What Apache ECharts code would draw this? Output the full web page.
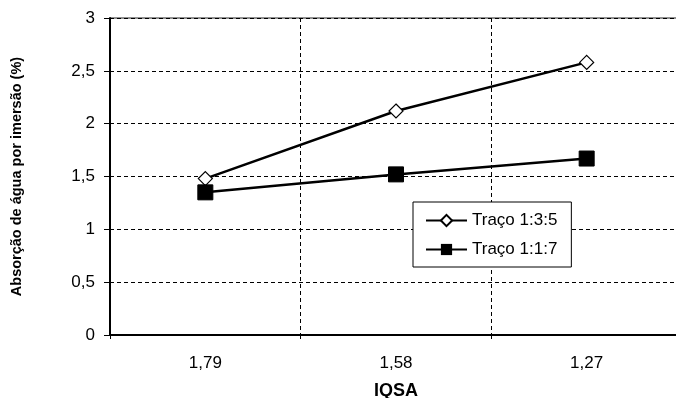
<!DOCTYPE html>
<html>
<head>
<meta charset="UTF-8">
<title>Absorção de água por imersão</title>
<script src="https://cdn.jsdelivr.net/npm/echarts@6/dist/echarts.min.js"></script>
<style>
  html, body { margin: 0; padding: 0; background: #fff; }
  #main { width: 676px; height: 398px; }
</style>
</head>
<body>
<div id="main"></div>
<script>
// dados
var categorias = ['1,79', '1,58', '1,27'];
var traco135 = [1.48, 2.12, 2.58];
var traco117 = [1.35, 1.52, 1.67];
var nomes = ['Traço 1:3:5', 'Traço 1:1:7'];

var fonte = '"Liberation Sans", Arial, sans-serif';
var chart = echarts.init(document.getElementById('main'));

function virgula(v) {
  return String(v).replace('.', ',');
}

var option = {
  animation: false,
  backgroundColor: '#fff',
  grid: {
    left: 110, top: 18, right: -6, height: 317,
    containLabel: false, outerBoundsMode: 'none',
    show: true, borderColor: '#222', borderWidth: 1
  },
  legend: {
    left: 413, top: 202,
    orient: 'vertical',
    itemGap: 12,
    itemWidth: 41, itemHeight: 14,
    padding: [10, 14, 9, 12],
    borderColor: '#000', borderWidth: 1,
    backgroundColor: '#fff',
    textStyle: { fontFamily: fonte, fontSize: 17, color: '#000' },
    data: nomes
  },
  xAxis: {
    type: 'category',
    data: categorias,
    boundaryGap: true,
    name: 'IQSA',
    nameLocation: 'middle',
    nameGap: 47,
    nameTextStyle: { fontFamily: fonte, fontSize: 18, fontWeight: 'bold', color: '#000' },
    axisLine: { lineStyle: { color: '#000', width: 2 } },
    axisTick: { show: true, length: 6, lineStyle: { color: '#000', type: 'dashed' } },
    axisLabel: { fontFamily: fonte, fontSize: 17, color: '#000', margin: 20 },
    splitLine: { show: true, lineStyle: { color: '#000', type: [4, 3], width: 1 } }
  },
  yAxis: {
    type: 'value',
    min: 0, max: 3, interval: 0.5,
    name: 'Absorção de água por imersão (%)',
    nameLocation: 'middle',
    nameGap: 86,
    nameTextStyle: { fontFamily: fonte, fontSize: 14.5, fontWeight: 'bold', color: '#000' },
    axisLine: { show: true, lineStyle: { color: '#000', width: 2 } },
    axisTick: { show: true, length: 6, lineStyle: { color: '#000' } },
    axisLabel: { fontFamily: fonte, fontSize: 17, color: '#000', margin: 15, formatter: virgula },
    splitLine: { show: true, lineStyle: { color: '#000', type: [4, 3], width: 1 } }
  },
  series: [
    {
      name: nomes[0],
      type: 'line',
      data: traco135,
      symbol: 'diamond',
      symbolSize: 14,
      itemStyle: { color: '#fff', borderColor: '#000', borderWidth: 1.2 },
      lineStyle: { color: '#000', width: 2.5 },
      z: 3
    },
    {
      name: nomes[1],
      type: 'line',
      data: traco117,
      symbol: 'rect',
      symbolSize: 15,
      itemStyle: { color: '#000', borderColor: '#000' },
      lineStyle: { color: '#000', width: 2.5 },
      z: 3
    }
  ]
};

chart.setOption(option);
</script>
</body>
</html>
